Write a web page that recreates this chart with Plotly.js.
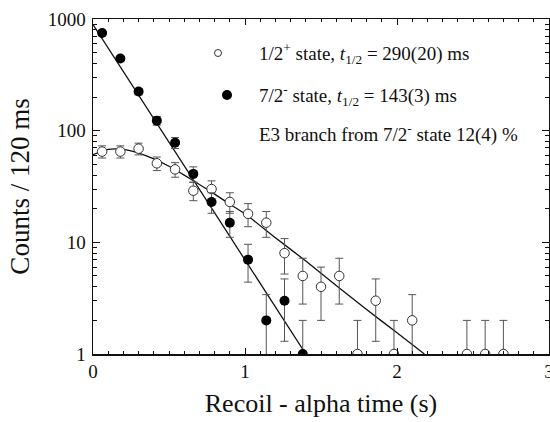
<!DOCTYPE html>
<html>
<head>
<meta charset="utf-8">
<script src="https://cdn.plot.ly/plotly-3.0.1.min.js"></script>
<style>html,body{margin:0;padding:0;background:#fff;} #chart{width:550px;height:422px;}</style>
</head>
<body>
<div id="chart"></div>
<script>
// 7/2- state (filled circles): bin centres (s), counts, errors
const tFilled = [0.06,0.18,0.30,0.42,0.54,0.66,0.78,0.90,1.02,1.14,1.26,1.38];
const cFilled = [750,443,224,123,78,41,23,15,7,2,3,1];
const eFilled = [27,21,15,11,8.8,6.4,4.8,3.9,2.6,1.4,1.7,1];

// 1/2+ state (open circles)
const tOpen = [0.06,0.18,0.30,0.42,0.54,0.66,0.78,0.90,1.02,1.14,1.26,1.38,1.50,1.62,1.74,1.86,1.98,2.10,2.46,2.58,2.70];
const cOpen = [65,65,69,51,45,29,30,23,18,15,8,5,4,5,1,3,1,2,1,1,1];
const eOpen = [8.1,8.1,8.3,7.1,6.7,5.4,5.5,4.8,4.2,3.9,2.8,2.2,2,2.2,1,1.7,1,1.4,1,1,1];

// fit curves
const fitFilledT = [0, 1.40];
const fitFilledC = [893, 1];
const fitOpenT = [0,0.1,0.2,0.3,0.4,0.5,0.6,0.7,0.8,0.9,1.0,1.2,1.4,1.6,1.8,2.0,2.18];
const fitOpenC = [61,68,68,63,56,48,40,33,27,22,18,11,6.8,4.1,2.5,1.55,1.0];

const legendTexts = [
  "1/2<sup>+</sup> state, <i>t</i><sub>1/2</sub> = 290(20) ms",
  "7/2<sup>-</sup> state, <i>t</i><sub>1/2</sub> = 143(3) ms",
  "E3 branch from 7/2<sup>-</sup> state 12(4) %"
];

const FONT = "Liberation Serif";
const errStyle = {type:'data', visible:true, color:'#555', thickness:1, width:4};

const traces = [
  {x: fitOpenT, y: fitOpenC, mode:'lines', line:{color:'#111', width:1.3, shape:'spline', smoothing:0.6}, hoverinfo:'skip', showlegend:false},
  {x: fitFilledT, y: fitFilledC, mode:'lines', line:{color:'#111', width:1.3}, hoverinfo:'skip', showlegend:false},
  {x: tOpen, y: cOpen, mode:'markers', name:'1/2+',
   marker:{symbol:'circle', size:9.5, color:'#fff', line:{color:'#333', width:1}},
   error_y: Object.assign({array:eOpen}, errStyle), showlegend:false},
  {x: tFilled, y: cFilled, mode:'markers', name:'7/2-',
   marker:{symbol:'circle', size:10, color:'#000', line:{color:'#000', width:0}},
   error_y: Object.assign({array:eFilled}, errStyle), showlegend:false}
];

const px2x = p => (p - 93) / 456;
const py2y = p => (354 - p) / 335;

const layout = {
  width:550, height:422,
  margin:{l:93, r:1, t:19, b:68},
  paper_bgcolor:'#fff', plot_bgcolor:'#fff',
  font:{family:FONT, color:'#111', size:19},
  showlegend:false,
  xaxis:{
    range:[0,3], dtick:1, showgrid:false, zeroline:false,
    showline:true, linecolor:'#111', linewidth:1.5, mirror:'ticks',
    ticks:'inside', ticklen:6, tickcolor:'#111', tickwidth:1,
    ticklabeloverflow:'allow',
    minor:{dtick:0.1, ticks:'inside', ticklen:3, tickcolor:'#111', tickwidth:1, showgrid:false},
    tickfont:{family:FONT, size:19, color:'#111'},
    title:{text:'Recoil - alpha time (s)', font:{family:FONT, size:26, color:'#111'}, standoff:12}
  },
  yaxis:{
    type:'log', range:[0,3], dtick:1, exponentformat:'none', showgrid:false, zeroline:false,
    showline:true, linecolor:'#111', linewidth:1.5, mirror:'ticks',
    ticks:'inside', ticklen:7, tickcolor:'#111', tickwidth:1,
    minor:{dtick:'D1', ticks:'inside', ticklen:4, tickcolor:'#111', tickwidth:1, showgrid:false},
    tickfont:{family:FONT, size:19, color:'#111'},
    ticklabelstandoff:2,
    title:{text:'Counts / 120 ms', font:{family:FONT, size:27, color:'#111'}, standoff:10}
  },
  annotations: legendTexts.map((t,i)=>({
    text:t, xref:'paper', yref:'paper', x:px2x(257), y:py2y([53,95,133][i]),
    xanchor:'left', yanchor:'middle', showarrow:false, font:{family:FONT, size:19, color:'#111'}
  })),
  shapes:[
    {type:'circle', xref:'paper', yref:'paper', xsizemode:'pixel', ysizemode:'pixel',
     xanchor:px2x(218), yanchor:py2y(53), x0:-3.5, x1:3.5, y0:-3.5, y1:3.5,
     line:{color:'#333', width:1}, fillcolor:'#fff'},
    {type:'circle', xref:'paper', yref:'paper', xsizemode:'pixel', ysizemode:'pixel',
     xanchor:px2x(227), yanchor:py2y(95), x0:-5, x1:5, y0:-5, y1:5,
     line:{color:'#000', width:0}, fillcolor:'#000'}
  ]
};

Plotly.newPlot('chart', traces, layout, {displayModeBar:false, staticPlot:true});
</script>
</body>
</html>
